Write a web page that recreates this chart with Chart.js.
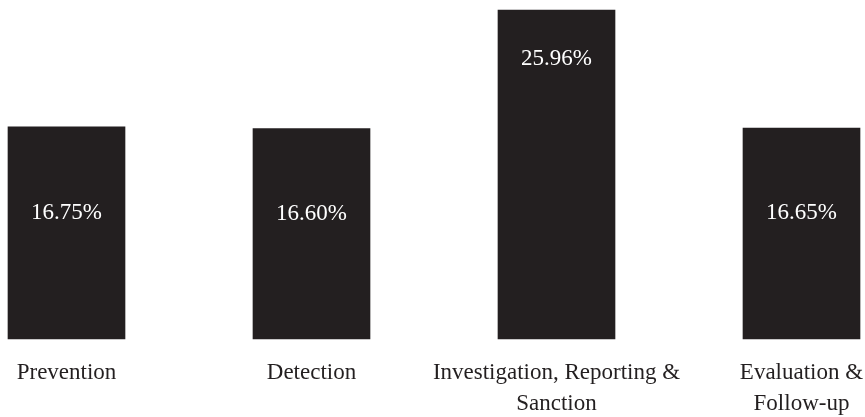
<!DOCTYPE html>
<html>
<head>
<meta charset="utf-8">
<script src="https://cdn.jsdelivr.net/npm/chart.js@4"></script>
<style>
  html, body { margin: 0; padding: 0; background: #fff; }
  #wrap { width: 865px; height: 417px; }
</style>
</head>
<body>
<div id="wrap"><canvas id="grafico"></canvas></div>
<script>
var categorias = ['Prevention', 'Detection', ['Investigation, Reporting &', 'Sanction'], ['Evaluation &', 'Follow-up']]
var valores = [16.75, 16.60, 25.96, 16.65]
var rotulos = ['16.75%', '16.60%', '25.96%', '16.65%']

var corBarra = '#231f20'
var fonte = '"Liberation Serif", "Times New Roman", serif'

// escreve os percentuais dentro das barras
var rotulosBarras = {
  id: 'rotulosBarras',
  afterDatasetsDraw: function (chart) {
    var ctx = chart.ctx
    var meta = chart.getDatasetMeta(0)
    var maior = Math.max.apply(null, valores)
    ctx.save()
    ctx.fillStyle = '#ffffff'
    ctx.font = '23px ' + fonte
    ctx.textAlign = 'center'
    ctx.textBaseline = 'middle'
    meta.data.forEach(function (bar, i) {
      var altura = bar.base - bar.y
      var y = valores[i] === maior ? bar.y + 49 : bar.y + altura * 0.405
      ctx.fillText(rotulos[i], bar.x, y)
    })
    ctx.restore()
  },
}

var ctx = document.getElementById('grafico').getContext('2d')

var grafico = new Chart(ctx, {
  type: 'bar',
  data: {
    labels: categorias,
    datasets: [
      {
        data: valores,
        backgroundColor: corBarra,
        borderWidth: 0,
        barThickness: 117,
        clip: false,
      },
    ],
  },
  options: {
    responsive: true,
    maintainAspectRatio: false,
    animation: false,
    layout: {
      padding: { top: 10, left: 66.5, right: 63.5, bottom: 0 },
    },
    plugins: {
      legend: { display: false },
      tooltip: { enabled: false },
    },
    scales: {
      x: {
        offset: false,
        grid: { display: false, drawTicks: false },
        border: { display: false },
        ticks: {
          color: corBarra,
          padding: 18,
          maxRotation: 0,
          autoSkip: false,
          font: { family: fonte, size: 23, lineHeight: 1.35 },
        },
        afterFit: function (scale) {
          scale.height = 78
          scale.paddingLeft = 0
          scale.paddingRight = 0
        },
      },
      y: {
        display: false,
        beginAtZero: true,
        min: 0,
        max: 25.96,
      },
    },
  },
  plugins: [rotulosBarras],
})
</script>
</body>
</html>
